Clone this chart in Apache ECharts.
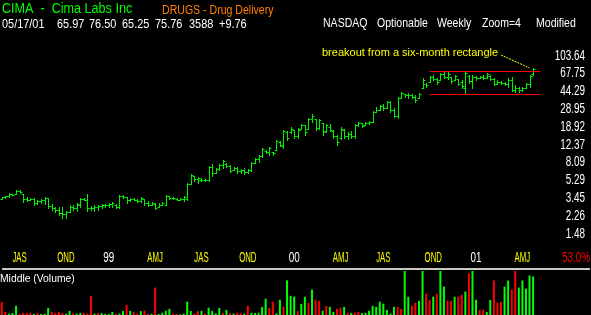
<!DOCTYPE html>
<html><head><meta charset="utf-8">
<script src="https://cdn.jsdelivr.net/npm/echarts/dist/echarts.min.js"></script>
<style>html,body{margin:0;padding:0;background:#000;}#c{width:591px;height:315px;}</style>
</head><body><div id="c"></div>
<script>
// ---------------- DATA ----------------
const firstWeek = '1998-07-06';
const blankWeeksAfter = 2;
const opens = [
3.40,3.50,3.58,3.80,3.80,4.05,3.78,3.35,3.30,3.40,
3.05,3.20,3.30,3.42,2.85,2.70,2.60,2.42,2.38,2.48,
2.80,2.75,2.90,3.38,3.33,2.70,2.75,2.80,2.85,2.90,
2.95,3.00,2.95,2.80,3.62,3.52,3.28,3.38,3.33,3.22,
3.35,3.05,2.95,3.00,2.80,2.95,2.95,3.62,3.42,3.40,
3.33,3.35,3.38,4.85,5.80,5.40,5.35,5.25,5.25,7.25,
6.30,6.85,7.55,7.85,7.45,6.75,7.05,6.55,6.75,6.45,
6.80,8.05,8.70,9.40,10.6,10.4,10.3,10.9,13.3,12.0,
16.5,16.5,17.5,15.0,17.9,19.5,18.0,22.5,22.5,18.5,
20.5,17.0,19.0,17.0,15.0,14.3,17.3,15.0,16.0,15.0,
19.7,20.5,19.8,20.5,21.3,27.0,28.4,31.0,29.6,34.0,
28.0,24.5,37.6,41.0,40.0,40.5,38.5,38.0,48.0,53.0,
55.5,62.0,59.5,58.0,66.0,62.0,61.5,57.7,59.0,55.0,
48.0,64.0,56.0,62.0,60.6,62.0,61.0,64.0,59.0,53.0,
55.0,54.0,53.0,58.0,46.0,48.0,45.0,47.7,53.0,65.97];
const highs = [
3.53,3.62,3.89,3.80,4.17,4.17,3.80,3.53,3.45,3.45,
3.29,3.37,3.53,3.45,2.99,2.78,2.78,2.78,2.53,2.92,
2.92,3.06,3.45,3.45,3.80,2.85,2.92,2.92,2.99,2.99,
3.06,3.13,2.99,3.70,3.70,3.53,3.45,3.45,3.37,3.53,
3.37,3.21,3.13,3.06,3.06,3.13,3.70,3.62,3.53,3.45,
3.45,3.62,4.93,6.11,5.83,5.69,5.56,5.43,7.40,7.76,
7.05,7.76,8.54,7.95,7.58,7.22,7.22,6.89,7.05,6.89,
8.15,8.96,9.63,11.4,10.85,11.7,10.35,13.8,13.4,17.5,
17.1,18.8,17.5,18.3,20.2,19.7,23.3,25.6,22.7,22.7,
20.7,20.2,20.2,17.5,15.5,18.8,17.9,16.7,17.1,20.2,
21.2,20.7,21.2,21.7,27.5,30.3,31.8,32.5,35.0,35.0,
29.6,38.5,43.3,41.3,42.3,41.3,40.4,42.3,60.6,53.7,
63.5,65.1,60.6,68.2,69.9,69.9,62.0,65.1,59.1,57.7,
69.9,65.1,65.1,63.5,63.5,65.1,68.2,65.1,60.6,57.7,
56.4,55.0,60.6,62.0,51.2,48.8,48.8,53.7,65.1,76.50];
const lows = [
3.37,3.45,3.53,3.70,3.80,3.89,3.13,3.21,3.29,2.92,
2.99,3.06,2.99,2.72,2.59,2.47,2.30,2.14,2.14,2.47,
2.59,2.53,2.78,3.29,2.53,2.59,2.53,2.59,2.72,2.78,
2.78,2.78,2.72,2.72,3.45,3.06,3.21,3.29,3.13,3.13,
2.92,2.85,2.92,2.65,2.78,2.92,2.92,3.37,3.37,3.29,
3.29,3.21,3.29,4.82,5.17,4.93,5.17,5.17,5.17,5.83,
6.26,6.72,7.05,7.22,6.41,6.72,6.26,6.26,6.11,6.26,
6.57,7.95,8.15,9.18,10.1,9.63,9.63,10.85,11.9,11.4,
13.8,16.3,14.4,14.4,17.9,15.5,17.9,21.2,17.5,17.9,
15.5,16.7,17.1,14.4,12.2,14.1,14.4,14.1,14.4,14.4,
19.2,18.8,19.7,20.2,21.2,26.9,28.2,28.2,29.6,26.9,
23.9,23.3,37.6,38.5,37.6,37.6,34.1,37.6,47.7,48.8,
55.0,57.7,52.5,57.7,60.6,59.1,53.7,57.7,51.2,47.7,
42.3,53.7,47.7,57.7,60.6,59.1,60.6,57.7,51.2,52.5,
52.5,51.2,48.8,44.4,43.3,43.3,44.4,47.7,48.8,65.25];
const closes = [
3.50,3.58,3.82,3.75,4.05,3.95,3.35,3.30,3.40,3.05,
3.20,3.30,3.48,2.85,2.70,2.60,2.42,2.38,2.48,2.80,
2.75,3.00,3.38,3.33,2.70,2.75,2.80,2.85,2.90,2.95,
3.00,3.05,2.80,3.62,3.52,3.28,3.38,3.33,3.22,3.48,
3.05,2.95,3.06,2.75,2.95,3.05,3.62,3.42,3.48,3.33,
3.40,3.57,4.85,6.00,5.40,5.60,5.25,5.35,7.25,6.20,
6.85,7.55,8.30,7.45,6.65,7.05,6.55,6.75,6.45,6.80,
8.05,8.70,9.40,11.1,10.4,11.4,10.0,13.5,12.3,17.0,
14.6,18.1,15.2,17.5,19.5,16.5,22.5,24.5,18.3,22.0,
16.5,19.5,17.5,15.0,13.0,18.0,15.0,16.0,15.3,19.7,
20.5,19.3,20.5,21.3,27.0,28.0,31.0,29.5,34.0,28.0,
24.5,37.5,42.0,40.0,40.5,38.5,35.5,41.5,58.0,51.5,
62.0,59.5,54.5,66.0,62.0,67.0,56.0,63.0,53.0,50.0,
68.0,56.0,62.0,60.0,62.0,61.0,66.0,59.0,53.0,55.0,
54.0,53.0,58.0,46.0,48.0,45.0,47.5,53.0,64.0,75.76];
const volumes = [
1230,290,120,190,850,110,200,180,210,100,
190,90,120,660,280,170,300,190,110,380,
160,120,200,190,130,1800,120,190,180,100,
90,290,110,130,370,950,380,270,120,360,
400,110,100,2560,90,210,390,570,120,100,
50,130,1240,370,140,360,390,120,680,380,
140,650,200,470,190,130,210,180,120,860,
200,190,210,760,1520,650,1230,140,1420,770,
3230,1790,1710,380,1040,1700,1130,2370,1430,1320,
390,850,760,290,570,660,750,200,180,210,
290,170,200,380,860,750,1240,1050,470,130,
760,770,560,4300,1700,850,1140,1320,4500,1990,
1420,1710,1990,4200,2650,1330,1310,1700,1710,1890,
2180,3880,4400,1420,470,480,290,1410,3220,1140,
1230,2650,3210,2370,4150,2560,3220,2460,3690,3588];
const weekDirection =
  'DDUUUDDDDU' + 'DUUUDDDDUU' + 'DUUDDDUDUU' + 'UUDUUDUDDU' + 'DDUDUUUUDD' +
  'UUUUDDUDUU' + 'UUDUDUDDUD' + 'UUUUUDDUUD' + 'UUUDUUDUDD' + 'UDUUDDUDUD' +
  'DUUUUUUUUU' + 'UDDUUDDUUD' + 'DUDUUDDUDD' + 'UDUUDDUUDD' + 'DUUDDUUUUU';
const priceTickLabels = ['1.48','2.26','3.45','5.29','8.09','12.37','18.92','28.95','44.29','67.75','103.64'];
const dateLabelWeeks = ['1998-08-10','1998-11-09','1999-02-01','1999-05-03','1999-08-02','1999-11-01',
                        '2000-01-31','2000-05-01','2000-07-24','2000-10-30','2001-01-22','2001-04-23'];
const dateLabelTexts = ['JAS','OND','99','AMJ','JAS','OND','00','AMJ','JAS','OND','01','AMJ'];
const rectangleTop = 71.5, rectangleBottom = 41.5;
const rectangleFrom = '2000-10-23', rectangleTo = '2001-05-28';
const calloutFrom = ['2001-03-12', 105.0], calloutTo = ['2001-05-07', 77.0];
const headerSymbol = 'CIMA  -  Cima Labs Inc';
const headerGroup = 'DRUGS - Drug Delivery';
const headerQuote = ['05/17/01','65.97','76.50','65.25','75.76','3588','+9.76'];
const headerRight = ['NASDAQ','Optionable','Weekly','Zoom=4','Modified'];
const annotationText = 'breakout from a six-month rectangle';
const volumeTitle = 'Middle (Volume)';
const percentText = '53.0%';

// ---------------- BUILD ----------------
const FONT = "'Liberation Sans',Arial,sans-serif";
const nWeeks = closes.length + blankWeeksAfter;
const weeks = [];
{
  const t0 = Date.parse(firstWeek + 'T00:00:00Z');
  for (let i = 0; i < nWeeks; i++) weeks.push(new Date(t0 + i * 7 * 86400000).toISOString().slice(0, 10));
}
const lo = parseFloat(priceTickLabels[0]);
const hi = parseFloat(priceTickLabels[priceTickLabels.length - 1]);
const step = Math.log(hi / lo) / (priceTickLabels.length - 1);
const T = p => Math.log(p / lo) / step;

const ohlc = closes.map((c, i) => [i, T(opens[i]), T(highs[i]), T(lows[i]), T(c)]);
const volData = volumes.map((v, i) => ({ value: v, itemStyle: { color: weekDirection[i] === 'U' ? '#00ff00' : '#ff0000' } }));

const GREEN = '#00f000';
const chart = echarts.init(document.getElementById('c'), null, { renderer: 'canvas' });

function stxt(text, x, y, color, size, sx, align) {
  return { type: 'text', silent: true, x, y, scaleX: sx, scaleY: 1,
    style: { text, x: 0, y: 0, fill: color, font: size + 'px ' + FONT,
      textAlign: align || 'left', textVerticalAlign: 'middle' } };
}

chart.setOption({
  backgroundColor: '#000',
  animation: false,
  grid: [
    { left: 0, width: 542, top: 37.7, height: 213.6 },
    { left: 0, width: 542, top: 271, height: 44 }
  ],
  xAxis: [
    { type: 'category', gridIndex: 0, data: weeks, boundaryGap: true,
      axisLine: { show: false }, axisTick: { show: false }, splitLine: { show: false }, axisLabel: { show: false } },
    { type: 'category', gridIndex: 1, data: weeks, show: false, boundaryGap: true }
  ],
  yAxis: [
    { type: 'value', gridIndex: 0, position: 'right', min: -1, max: priceTickLabels.length, interval: 1,
      axisLine: { show: false }, axisTick: { show: false }, splitLine: { show: false }, axisLabel: { show: false } },
    { type: 'value', gridIndex: 1, min: 0, max: 4100, show: false }
  ],
  series: [
    { type: 'custom', xAxisIndex: 0, yAxisIndex: 0, data: ohlc, encode: { x: 0, y: [1, 2, 3, 4] },
      renderItem: (params, api) => {
        const i = api.value(0);
        const o = api.coord([i, api.value(1)]);
        const h = api.coord([i, api.value(2)]);
        const l = api.coord([i, api.value(3)]);
        const c = api.coord([i, api.value(4)]);
        const x = Math.round(o[0]) + 0.5;
        const st = { stroke: GREEN, lineWidth: 1 };
        const oy = Math.round(o[1]) + 0.5, cy = Math.round(c[1]) + 0.5;
        return { type: 'group', children: [
          { type: 'line', shape: { x1: x, y1: Math.round(h[1]), x2: x, y2: Math.round(l[1]) + 1 }, style: st },
          { type: 'line', shape: { x1: x - 2, y1: oy, x2: x, y2: oy }, style: st },
          { type: 'line', shape: { x1: x, y1: cy, x2: x + 2, y2: cy }, style: st }
        ] };
      } },
    { type: 'line', xAxisIndex: 0, yAxisIndex: 0, data: weeks.map(() => null), showSymbol: false, silent: true,
      markLine: { silent: true, symbol: ['none', 'none'], label: { show: false }, animation: false,
        data: [
          [{ coord: [rectangleFrom, T(rectangleTop)], lineStyle: { color: '#ff0000', width: 1, type: 'solid' } }, { coord: [rectangleTo, T(rectangleTop)] }],
          [{ coord: [rectangleFrom, T(rectangleBottom)], lineStyle: { color: '#ff0000', width: 1, type: 'solid' } }, { coord: [rectangleTo, T(rectangleBottom)] }],
          [{ coord: [calloutFrom[0], T(calloutFrom[1])], lineStyle: { color: '#ffff00', width: 1, type: [2, 1] } }, { coord: [calloutTo[0], T(calloutTo[1])] }]
        ] } },
    { type: 'bar', xAxisIndex: 1, yAxisIndex: 1, data: volData, barWidth: 2 }
  ]
});

// axis labels placed through the axes' own scales
const finder = { xAxisIndex: 0, yAxisIndex: 0 };
const yLabels = priceTickLabels.map((t, k) => {
  const p = chart.convertToPixel(finder, [weeks[0], k]);
  return stxt(t, 585, p[1], '#ffffff', 15, 0.66, 'right');
});
const xLabels = dateLabelWeeks.map((w, i) => {
  const p = chart.convertToPixel(finder, [w, -1]);
  const t = dateLabelTexts[i];
  const isYear = /^\d+$/.test(t);
  return stxt(t, p[0], p[1] + 6.5, isYear ? '#ffffff' : '#ffff00', 15, isYear ? 0.66 : 0.52, 'center');
});
const quoteX = [2, 57, 89, 122, 155, 189, 219];
const rightX = [323, 377, 437, 482, 536];
chart.setOption({ graphic: [
  stxt(headerSymbol, 2, 9, '#00ff00', 14, 0.9),
  stxt(headerGroup, 162, 10.5, '#ff8000', 12, 0.88),
  ...headerQuote.map((t, i) => stxt(t, quoteX[i], 24, '#ffffff', 13, 0.84)),
  ...headerRight.map((t, i) => stxt(t, rightX[i], 23.5, '#ffffff', 13, 0.81)),
  stxt(annotationText, 322, 53, '#ffff00', 11, 1),
  stxt(percentText, 590, 257.5, '#ff0000', 15, 0.66, 'right'),
  { type: 'rect', silent: true, shape: { x: 2, y: 268, width: 588, height: 2 }, style: { fill: '#c8c8c8' } },
  stxt(volumeTitle, 0, 279, '#ffffff', 11, 0.94),
  ...yLabels, ...xLabels
] });
</script></body></html>
